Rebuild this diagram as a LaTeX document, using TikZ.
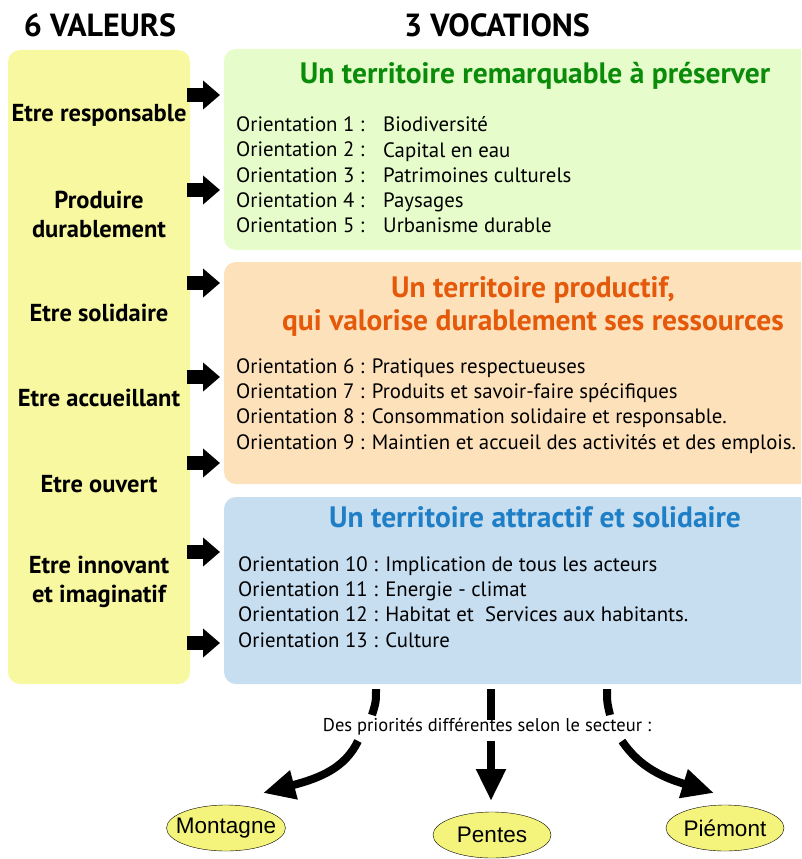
\documentclass[tikz,border=0pt]{standalone}
\usepackage{fontspec}
\setmainfont{PT Sans}
\setsansfont{Liberation Sans}
\usepackage{tikz}
\usetikzlibrary{positioning,arrows.meta,shapes.geometric}

\definecolor{jaune}{HTML}{F8F8A0}
\definecolor{vert}{HTML}{E6FCCB}
\definecolor{orange}{HTML}{FDE1BB}
\definecolor{bleu}{HTML}{C7DDF0}
\definecolor{titrevert}{HTML}{0A8C0A}
\definecolor{titreorange}{HTML}{E4590A}
\definecolor{titrebleu}{HTML}{1E7EC6}
\definecolor{ovale}{HTML}{F4F47C}

\tikzset{
  box/.style = {shape = rectangle, rounded corners = 12pt, inner sep = 0pt, outer sep = 0pt, anchor = north west},
  entete/.style = {font = \bfseries\fontsize{32}{36}\selectfont},
  valeur/.style = {align = center, font = \bfseries\fontsize{24.5}{29}\selectfont},
  titre/.style = {align = center, font = \bfseries\fontsize{29.5}{33}\selectfont},
  liste/.style = {align = left, anchor = west, inner sep = 0pt, font = \fontsize{20.8}{25.3}\selectfont},
  fleche/.style = {line width = 14pt, shorten < = -3pt, shorten > = 4pt, -{Triangle[width = 28pt, length = 17pt]}},
  trait/.style = {line width = 8pt},
  courbe/.style = {line width = 8pt, -{Triangle[width = 28pt, length = 32pt]}},
  secteur/.style = {shape = ellipse, draw, fill = ovale, minimum width = 118pt, minimum height = 46pt, inner xsep = -8pt, inner ysep = 3pt, font = \sffamily\fontsize{22.5}{22}\selectfont}
}

\begin{document}
\begin{tikzpicture}[x = 1pt, y = -1pt]
\clip (0,0) rectangle (801,859);

\node[entete] (0) at (100,25) {6 VALEURS};
\node[entete] (00) at (497,25) {3 VOCATIONS};

\node[box, fill = jaune, minimum width = 182pt, minimum height = 634pt] (1) at (8,50) {};
\node[box, fill = vert, minimum width = 610pt, minimum height = 201pt] (2) at (224,49) {};
\node[box, fill = orange, minimum width = 610pt, minimum height = 222pt] (3) at (224,262) {};
\node[box, fill = bleu, minimum width = 610pt, minimum height = 187pt] (4) at (224,497) {};

\node[valeur] (11) at (99,115) {Etre responsable};
\node[valeur] (12) at (99,214) {Produire\\durablement};
\node[valeur] (13) at (99,313) {Etre solidaire};
\node[valeur] (14) at (99,398) {Etre accueillant};
\node[valeur] (15) at (99,484) {Etre ouvert};
\node[valeur] (16) at (99,582) {Etre innovant\\et imaginatif};

\node[titre, text = titrevert] (21) at (535,76) {Un territoire remarquable à préserver};
\node[liste] (22) at (236,175) {Orientation 1 :\\Orientation 2 :\\Orientation 3 :\\Orientation 4 :\\Orientation 5 :};
\node[liste] (23) at (383,175) {Biodiversité\\Capital en eau\\Patrimoines culturels\\Paysages\\Urbanisme durable};

\node[titre, text = titreorange] (31) at (533,306) {Un territoire productif,\\qui valorise durablement ses ressources};
\node[liste] (32) at (236,406) {Orientation 6 : Pratiques respectueuses\\Orientation 7 : Produits et savoir-faire spécifiques\\Orientation 8 : Consommation solidaire et responsable.\\Orientation 9 : Maintien et accueil des activités et des emplois.};

\node[titre, text = titrebleu] (41) at (535,517) {Un territoire attractif et solidaire};
\node[liste] (42) at (238,602) {Orientation 10 : Implication de tous les acteurs\\Orientation 11 : Energie - climat\\Orientation 12 : Habitat et\ \ Services aux habitants.\\Orientation 13 : Culture};

\draw[fleche] (1.east |- 0,95) -- (2.west |- 0,95);
\draw[fleche] (1.east |- 0,190) -- (2.west |- 0,190);
\draw[fleche] (1.east |- 0,283) -- (3.west |- 0,283);
\draw[fleche] (1.east |- 0,377) -- (3.west |- 0,377);
\draw[fleche] (1.east |- 0,463) -- (3.west |- 0,463);
\draw[fleche] (1.east |- 0,552) -- (4.west |- 0,552);
\draw[fleche] (1.east |- 0,643) -- (4.west |- 0,643);

\node[font = \fontsize{18.5}{20}\selectfont] (5) at (487,727) {Des priorités différentes selon le secteur :};

\node[secteur] (51) at (226,828) {Montagne};
\node[secteur] (52) at (492,835) {Pentes};
\node[secteur] (53) at (725,828) {Piémont};

\coordinate (61) at (376,689);
\coordinate (62) at (491,689);
\coordinate (63) at (607,689);
\coordinate (71) at (263,793);
\coordinate (72) at (491,801);
\coordinate (73) at (714,793);

\draw[trait] (61) .. controls (376,702) .. (372,715);
\draw[trait] (62) -- (491,720);
\draw[trait] (63) .. controls (607,702) .. (610,715);
\draw[courbe] (358,741) .. controls (345,768) and (320,778) .. (71);
\draw[courbe] (491,741) -- (72);
\draw[courbe] (622,741) .. controls (640,768) and (665,778) .. (73);
\end{tikzpicture}
\end{document}
